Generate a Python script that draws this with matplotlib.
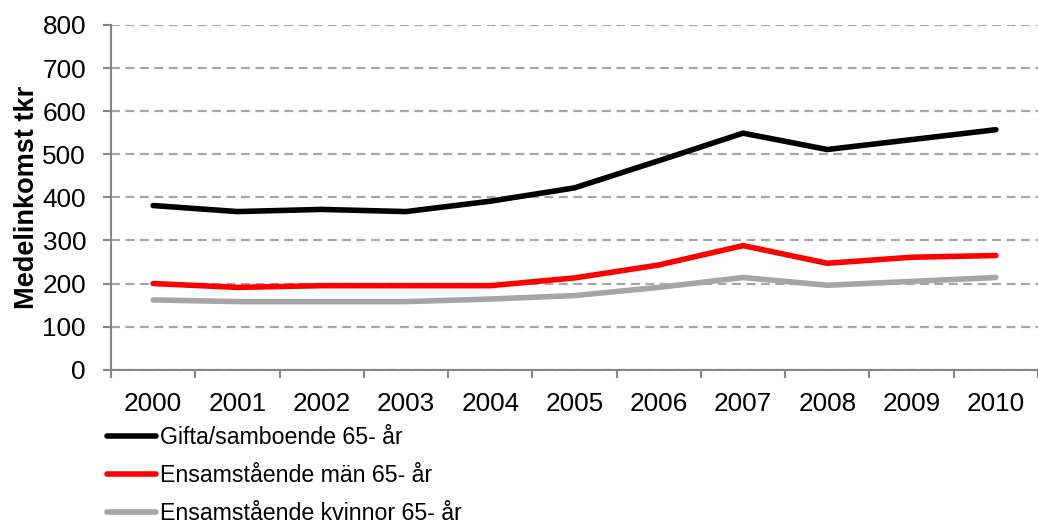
import numpy as np
import matplotlib.pyplot as plt

plt.rcParams['font.family'] = ['Liberation Sans', 'DejaVu Sans']

years = ['2000', '2001', '2002', '2003', '2004', '2005', '2006', '2007', '2008', '2009', '2010']
gifta = [381, 367, 372, 367, 391, 422, 485, 549, 511, 534, 557]
man = [200, 191, 195, 195, 195, 213, 243, 288, 247, 261, 265]
kvinnor = [162, 158, 158, 158, 164, 172, 191, 214, 196, 205, 214]
labels = ['Gifta/samboende 65- år', 'Ensamstående män 65- år', 'Ensamstående kvinnor 65- år']

W, H = 1038, 524
fig = plt.figure(figsize=(W / 100, H / 100), dpi=100)
ax = fig.add_axes([111 / W, 1 - 369.7 / H, (W - 111) / W, (369.7 - 25) / H])

x = np.arange(len(years))
ax.plot(x, gifta, color='black', lw=4, solid_capstyle='round', label=labels[0])
ax.plot(x, man, color='#ff0000', lw=4, solid_capstyle='round', label=labels[1])
ax.plot(x, kvinnor, color='#a6a6a6', lw=4, solid_capstyle='round', label=labels[2])

ax.set_ylim(0, 800)
ax.set_yticks(range(0, 801, 100))
ax.set_xlim(-0.5, -0.5 + (W - 111) / 86.0)
ax.set_xticks(x)
ax.set_xticklabels(years)
ax.set_xticks(np.arange(-0.5, 10.6, 1), minor=True)
ax.tick_params(axis='x', which='major', length=0, pad=16, labelsize=18.8)
ax.tick_params(axis='x', which='minor', length=6, width=1.5, color='#868686', direction='out')
ax.tick_params(axis='y', length=6, width=1.5, color='#868686', labelsize=18.8, pad=12)

ax.grid(axis='y', linestyle=(0, (4, 2.5)), color='#a6a6a6', lw=1.6)
ax.set_axisbelow(True)
for s in ['top', 'right']:
    ax.spines[s].set_visible(False)
for s in ['left', 'bottom']:
    ax.spines[s].set_color('#868686')
    ax.spines[s].set_linewidth(1.5)

ax.set_ylabel('Medelinkomst tkr', fontsize=19.5, fontweight='bold', labelpad=2)

fig.legend(loc='upper left', bbox_to_anchor=(107 / W, 1 - 426 / H), frameon=False,
           fontsize=16.7, handlelength=2.1, handletextpad=0.2, labelspacing=0.64,
           borderpad=0, borderaxespad=0)

fig.savefig('out.png', dpi=100)
